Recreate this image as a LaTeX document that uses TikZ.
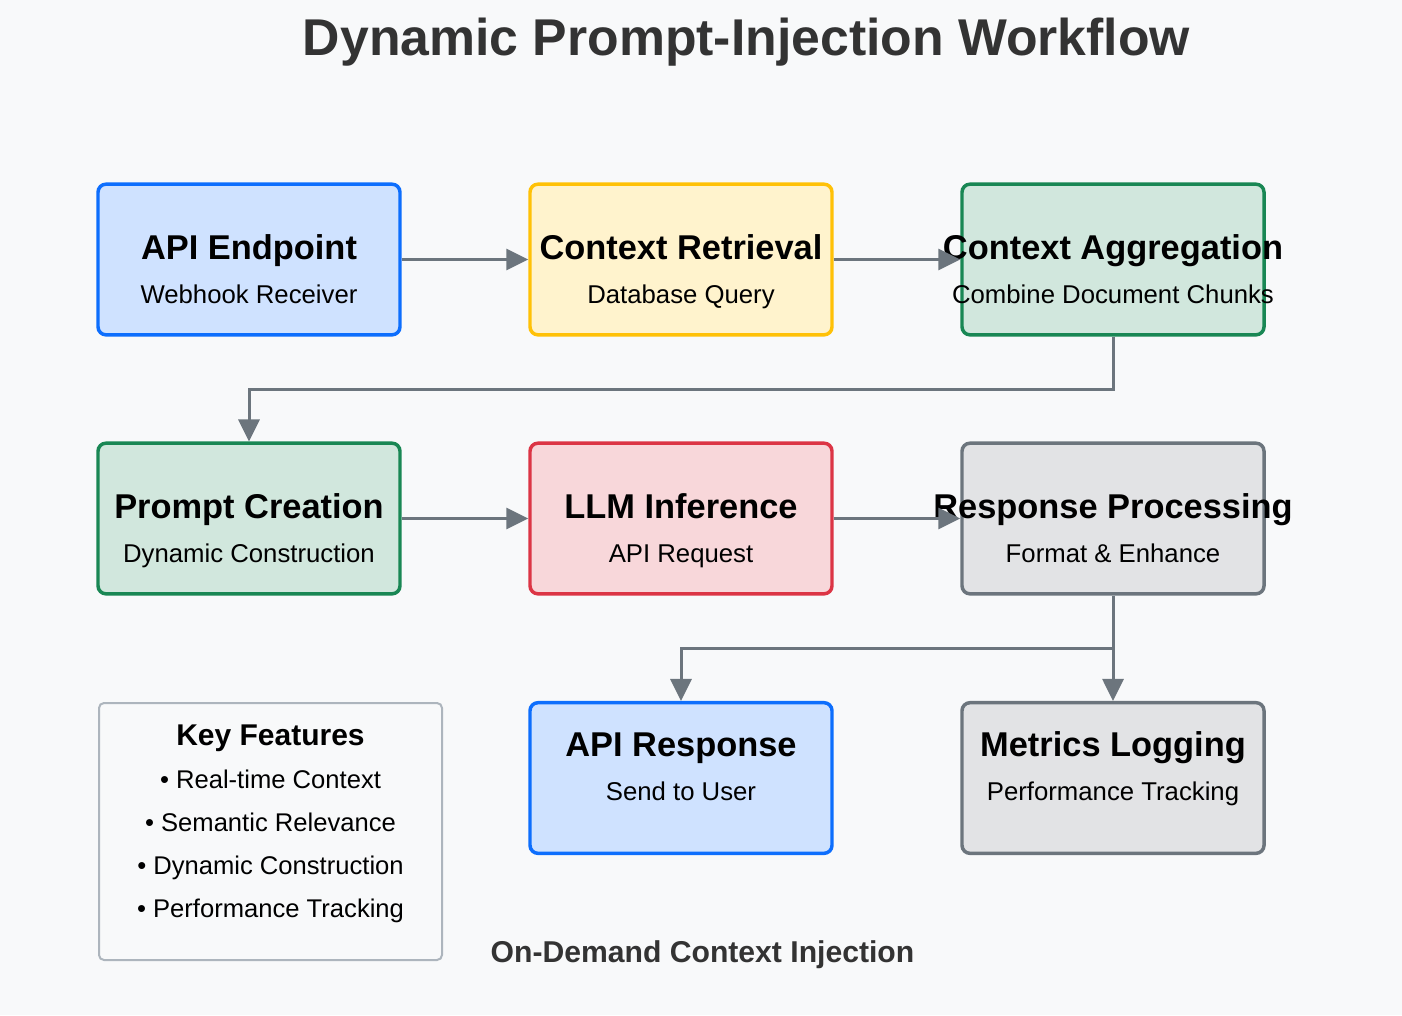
\documentclass[tikz,border=0pt]{standalone}
\usepackage{fontspec}
\setmainfont{Liberation Sans}
\usetikzlibrary{arrows.meta}

\definecolor{pagebg}{HTML}{F8F9FA}
\definecolor{inkdark}{HTML}{333333}
\definecolor{flowgray}{HTML}{6C757D}
\definecolor{keyline}{HTML}{ADB5BD}

\begin{document}
\begin{tikzpicture}
    [%%%%%%%%%%%%%%%%%%%%%%%%%%%%%%
        x=0.75pt, y=-0.75pt,
        stage/.style={rectangle, rounded corners=6pt, line width=2.6pt,
            minimum width=226.5pt, minimum height=113pt},
        bluebox/.style={draw={rgb,255:red,13;green,110;blue,253}, fill={rgb,255:red,207;green,226;blue,255}},
        yellowbox/.style={draw={rgb,255:red,255;green,193;blue,7}, fill={rgb,255:red,255;green,243;blue,205}},
        greenbox/.style={draw={rgb,255:red,25;green,135;blue,84}, fill={rgb,255:red,209;green,231;blue,221}},
        redbox/.style={draw={rgb,255:red,220;green,53;blue,69}, fill={rgb,255:red,248;green,215;blue,218}},
        graybox/.style={draw={rgb,255:red,108;green,117;blue,125}, fill={rgb,255:red,226;green,227;blue,229}},
        head/.style={anchor=base, inner sep=0pt, font=\fontsize{25.8}{30}\selectfont\bfseries},
        sub/.style={anchor=base, inner sep=0pt, font=\fontsize{19.3}{23}\selectfont},
        flow/.style={draw=flowgray, line width=2.25pt, -{Triangle[length=16.5pt,width=15.75pt]}},
        keybox/.style={rectangle, rounded corners=3.75pt, draw=keyline, line width=1.5pt,
            fill=pagebg, minimum width=257.25pt, minimum height=192.75pt},
    ]%%%%%%%%%%%%%%%%%%%%%%%%%%%%%%

\fill[pagebg] (0,0) rectangle (1402,1015);
\useasboundingbox (0,0) rectangle (1402,1015);

% title
\node[anchor=base, text=inkdark, font=\fontsize{38.8}{44}\selectfont\bfseries] (title) at (746.5,55) {Dynamic Prompt-Injection Workflow};

% stages (last value: baseline shift of the heading)
\foreach \n/\x/\y/\c/\h/\s/\o in {
    api/249/259.5/bluebox/API Endpoint/Webhook Receiver/0,
    retr/681/259.5/yellowbox/Context Retrieval/Database Query/0,
    aggr/1113/259.5/greenbox/Context Aggregation/Combine Document Chunks/0,
    prompt/249/518.5/greenbox/Prompt Creation/Dynamic Construction/0,
    llm/681/518.5/redbox/LLM Inference/API Request/0,
    resp/1113/518.5/graybox/Response Processing/Format \& Enhance/0,
    apiresp/681/778/bluebox/API Response/Send to User/-21.5,
    metrics/1113/778/graybox/Metrics Logging/Performance Tracking/-21.5}{
    \node[stage,\c] (\n) at (\x,\y){};
    \node[head] (\n-h) at (\x,\y+\o){\h};
    \node[sub] (\n-s) at (\x,\y+\o+43.5){\s};
}

% connectors
\draw[flow] (api) -- (retr);
\draw[flow] (retr) -- (aggr);
\draw[flow] (aggr.south) -- ++(0,53) -| (prompt.north);
\draw[flow] (prompt) -- (llm);
\draw[flow] (llm) -- (resp);
\coordinate (split) at (1113,648);
\draw[flow] (resp.south) -- (metrics.north);
\draw[flow] (split) -| (apiresp.north);

% key features
\node[keybox] (keys) at (270.5,831.5){};
\node[anchor=base, font=\fontsize{22.5}{26}\selectfont\bfseries] (keys-h) at (270.5,745.5){Key Features};
\foreach \i/\t in {1/Real-time Context, 2/Semantic Relevance, 3/Dynamic Construction, 4/Performance Tracking}
    \node[anchor=base, font=\fontsize{19.2}{23}\selectfont] (keys-\i) at (270.5,745.5+43*\i){• \t};

% footer
\node[anchor=base, text=inkdark, font=\fontsize{22.6}{26}\selectfont\bfseries] (footer) at (702.5,962){On-Demand Context Injection};
\end{tikzpicture}
\end{document}
